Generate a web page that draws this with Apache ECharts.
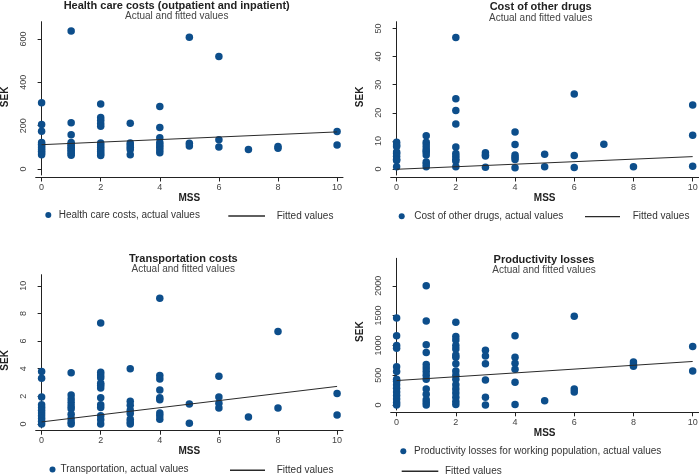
<!DOCTYPE html>
<html><head><meta charset="utf-8">
<script src="https://cdn.jsdelivr.net/npm/echarts@6/dist/echarts.min.js"></script>
<style>html,body{margin:0;padding:0;background:#fff}#c{width:700px;height:475px}</style>
</head><body><div id="c"></div>
<script>
// ---------------- data ----------------
const xTicks = [0, 2, 4, 6, 8, 10];

const healthMSS = [0, 1, 2, 3, 4, 5, 6, 7, 8, 10];
const healthValues = [
  [306, 205, 174, 122, 114, 106, 98, 90, 82, 74, 66],
  [637, 213, 158, 122, 115, 108, 100, 93, 86, 78, 70, 63],
  [300, 237, 225, 210, 197, 120, 110, 100, 90, 80, 70, 62],
  [211, 120, 110, 100, 90, 65],
  [288, 191, 144, 122, 110, 100, 88, 75],
  [608, 119, 106],
  [519, 135, 101],
  [90],
  [104, 95],
  [173, 110]
];
const healthFitted = [112, 171];
const healthTicks = [0, 200, 400, 600];

const drugsMSS = [0, 1, 2, 3, 4, 5, 6, 7, 8, 10];
const drugsValues = [
  [9.5, 8.5, 8.0, 6.0, 5.5, 4.5, 3.5, 3.0, 0.8],
  [11.8, 9.5, 8.5, 7.5, 6.5, 6.0, 5.0, 2.5, 1.8, 0.8],
  [46.8, 25, 20.8, 16, 7.8, 5.5, 4.5, 3.5, 2.8, 0.8],
  [5.8, 5.0, 4.6, 0.6],
  [13.2, 8.7, 5.0, 4.2, 3.4, 0.4],
  [5.2, 0.8],
  [26.7, 4.8, 0.5],
  [8.8],
  [0.8],
  [22.8, 12.0, 1.0]
];
const drugsFitted = [-0.1, 4.4];
const drugsTicks = [0, 10, 20, 30, 40, 50];

const transMSS = [0, 1, 2, 3, 4, 5, 6, 7, 8, 10];
const transValues = [
  [3.8, 3.3, 1.95, 1.4, 1.2, 1.0, 0.8, 0.6, 0.4, 0.2, 0.0],
  [3.7, 2.1, 1.8, 1.55, 1.3, 1.1, 0.7, 0.4, 0.15, 0.0],
  [7.3, 3.75, 3.55, 3.35, 2.95, 2.8, 2.6, 1.9, 1.4, 1.2, 0.6, 0.3, 0.0],
  [4.0, 1.65, 1.35, 1.0, 0.75, 0.35, 0.15, 0.0],
  [9.1, 3.5, 3.25, 2.45, 1.9, 1.75, 0.8, 0.6, 0.35],
  [1.45, 0.05],
  [3.45, 1.95, 1.5, 1.15],
  [0.5],
  [6.7, 1.15],
  [2.2, 0.65]
];
const transFitted = [0.15, 2.72];
const transTicks = [0, 2, 4, 6, 8, 10];

const prodMSS = [0, 1, 2, 3, 4, 5, 6, 8, 10];
const prodValues = [
  [1460, 1160, 1000, 950, 640, 560, 430, 400, 340, 280, 220, 160, 100, 40, 0],
  [2000, 1410, 1010, 880, 680, 620, 560, 500, 430, 270, 180, 90, 40, 0],
  [1390, 1150, 1090, 1000, 940, 840, 800, 690, 570, 500, 430, 340, 270, 200, 130, 60, 10],
  [920, 820, 690, 420, 130, 0],
  [1160, 800, 700, 600, 380, 10],
  [70],
  [1490, 270, 220],
  [720, 680, 650],
  [980, 570]
];
const prodFitted = [410, 730];
const prodTicks = [0, 500, 1000, 1500, 2000];

const titles = ['Health care costs (outpatient and inpatient)', 'Cost of other drugs', 'Transportation costs', 'Productivity losses'];
const subtitle = 'Actual and fitted values';
const actualNames = ['Health care costs, actual values', 'Cost of other drugs, actual values', 'Transportation, actual values', 'Productivity losses for working population, actual values'];
const fittedName = 'Fitted values';
const fittedMSS = [0, 10];

// ---------------- layout ----------------
const FONT = '"Liberation Sans", Arial, Helvetica, sans-serif';
const DOT = '#0d4e8b';
const AX = '#222';
const panels = [
  { mss: healthMSS, vals: healthValues, fit: healthFitted, yTicks: healthTicks,
    left: 35.7, top: 21.7, width: 307.3, height: 153.3, axisY: 177.5, ymin: -28, ymax: 680,
    tx: 176.7, ty: -0.5, namePad: [0, 0, 0, 3],
    legDot: { left: 45.3, top: 209, pl: 2.4 }, legLine: { left: 228.3, top: 210, w: 36.7, pl: 6.7 } },
  { mss: drugsMSS, vals: drugsValues, fit: drugsFitted, yTicks: drugsTicks,
    left: 390.7, top: 21.7, width: 307.9, height: 153.3, axisY: 177.5, ymin: -2.14, ymax: 52.4,
    tx: 540.7, ty: 1.3, namePad: [0, 0, 0, 3],
    legDot: { left: 398.7, top: 210.2, pl: 4.6 }, legLine: { left: 585, top: 210.6, w: 35, pl: 7.7 } },
  { mss: transMSS, vals: transValues, fit: transFitted, yTicks: transTicks,
    left: 35.7, top: 274.7, width: 307.3, height: 153.3, axisY: 430.7, ymin: -0.29, ymax: 10.8,
    tx: 183.3, ty: 253, namePad: [0, 18, 0, 0],
    legDot: { left: 49.5, top: 463.6, pl: 0 }, legLine: { left: 230, top: 464.3, w: 35, pl: 6.7 } },
  { mss: prodMSS, vals: prodValues, fit: prodFitted, yTicks: prodTicks,
    left: 390.7, top: 258.3, width: 307.9, height: 151.7, axisY: 412.3, ymin: -84, ymax: 2461,
    tx: 544, ty: 254, namePad: [0, 0, 0, 5],
    legDot: { left: 400.3, top: 445.3, pl: 2.7 }, legLine: { left: 401.7, top: 465.3, w: 36.6, pl: 1.7 } }
];

const grid = [], xAxis = [], yAxis = [], series = [], title = [], legend = [];
panels.forEach((p, i) => {
  grid.push({ left: p.left, top: p.top, width: p.width, height: p.height, containLabel: false, outerBoundsMode: 'none' });
  grid.push({ left: p.left, top: p.axisY - 10, width: p.width, height: 10, containLabel: false, outerBoundsMode: 'none' });
  xAxis.push({ gridIndex: 2 * i, type: 'value', min: -0.2, max: 10.2, show: false });
  xAxis.push({ gridIndex: 2 * i + 1, type: 'value', min: -0.2, max: 10.2, position: 'bottom',
    axisLine: { show: true, lineStyle: { color: AX, width: 1 } },
    axisTick: { show: true, length: 4, customValues: xTicks, lineStyle: { color: AX, width: 1 } },
    axisLabel: { customValues: xTicks, margin: 5.5, fontSize: 9, color: '#444', fontFamily: FONT, formatter: v => String(v) },
    splitLine: { show: false },
    name: 'MSS', nameLocation: 'middle', nameGap: 15.5, nameMoveOverlap: false,
    nameTextStyle: { fontSize: 10, fontWeight: 'bold', color: AX, fontFamily: FONT } });
  yAxis.push({ gridIndex: 2 * i, type: 'value', min: p.ymin, max: p.ymax,
    axisLine: { show: true, lineStyle: { color: AX, width: 1 } },
    axisTick: { show: true, length: 4, customValues: p.yTicks, lineStyle: { color: AX, width: 1 } },
    axisLabel: { customValues: p.yTicks, rotate: 90, margin: 8, fontSize: 9, color: '#444', fontFamily: FONT, formatter: v => String(v) },
    splitLine: { show: false },
    name: 'SEK', nameLocation: 'middle', nameRotate: 90, nameGap: 25, nameMoveOverlap: false,
    nameTextStyle: { fontSize: 10, fontWeight: 'bold', color: AX, fontFamily: FONT, padding: p.namePad } });
  yAxis.push({ gridIndex: 2 * i + 1, type: 'value', show: false });

  const pts = [];
  p.mss.forEach((m, k) => p.vals[k].forEach(v => pts.push([m, v])));
  series.push({ type: 'scatter', name: actualNames[i], xAxisIndex: 2 * i, yAxisIndex: 2 * i,
    data: pts, symbolSize: 7.5, itemStyle: { color: DOT, opacity: 1 }, z: 2, silent: true });
  series.push({ type: 'line', name: fittedName, xAxisIndex: 2 * i, yAxisIndex: 2 * i,
    data: fittedMSS.map((m, k) => [m, p.fit[k]]), symbol: 'none', silent: true, z: 3,
    lineStyle: { color: '#2a2a2a', width: 1 }, itemStyle: { color: '#2a2a2a' } });

  title.push({ text: titles[i], subtext: subtitle, left: p.tx, top: p.ty, textAlign: 'center',
    padding: 0, itemGap: -1,
    textStyle: { fontSize: 11, fontWeight: 'bold', color: AX, fontFamily: FONT, lineHeight: 12 },
    subtextStyle: { fontSize: 10, color: '#444', fontFamily: FONT, lineHeight: 11 } });

  legend.push({ data: [actualNames[i]], left: p.legDot.left, top: p.legDot.top, orient: 'horizontal',
    icon: 'circle', itemWidth: 6, itemHeight: 6, padding: 0, selectedMode: false,
    textStyle: { fontSize: 10, color: '#333', fontFamily: FONT, lineHeight: 12, padding: [0, 0, 0, p.legDot.pl] } });
  legend.push({ data: [{ name: fittedName, icon: 'rect' }], left: p.legLine.left, top: p.legLine.top, orient: 'horizontal',
    itemWidth: p.legLine.w, itemHeight: 1.4, padding: 0, selectedMode: false,
    itemStyle: { color: '#2a2a2a' },
    textStyle: { fontSize: 10, color: '#333', fontFamily: FONT, lineHeight: 12, padding: [0, 0, 0, p.legLine.pl] } });
});

const chart = echarts.init(document.getElementById('c'), null, { renderer: 'canvas' });
chart.setOption({ animation: false, backgroundColor: '#fff', grid, xAxis, yAxis, series, title, legend });
</script>
</body></html>
